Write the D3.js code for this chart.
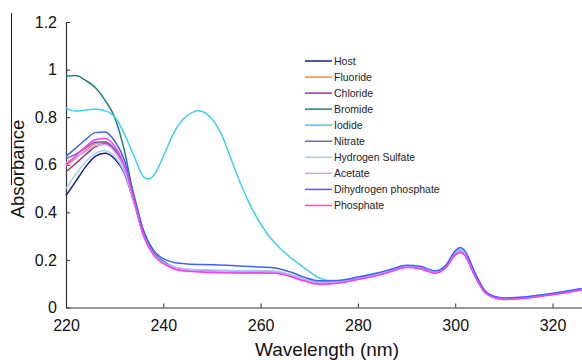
<!DOCTYPE html>
<html>
<head>
<meta charset="utf-8">
<script src="https://cdn.jsdelivr.net/npm/d3@7"></script>
<style>
  body { margin: 0; background: #fff; }
  svg { display: block; font-family: 'Liberation Sans', Arial, sans-serif; }
</style>
</head>
<body>
<div class="chart"></div>
<script>
// wavelength grids (nm)
var wavelength = [220,222,224,226,228,230,232,234,236,238,240,242,245,250,255,260,263,266,269,272,276,280,284,287,290,293,296,298,300,301,302,304,306,308,310,314,318,322,326];
var wavelengthIodide = [220,222,224,226,228,230,232,234,236,237,238,240,242,244,246,247,248,250,252,254,256,258,260,262,264,266,268,270,272,274,276,280,284,287,290,293,296,298,300,301,302,304,306,308,310,314,318,322,326];

// absorbance values
var host       = [0.470,0.530,0.590,0.635,0.648,0.625,0.565,0.440,0.300,0.225,0.190,0.170,0.158,0.152,0.150,0.150,0.148,0.135,0.115,0.102,0.106,0.122,0.138,0.155,0.170,0.164,0.146,0.168,0.222,0.232,0.220,0.135,0.068,0.043,0.036,0.040,0.050,0.062,0.076];
var fluoride   = [0.595,0.628,0.660,0.688,0.693,0.665,0.590,0.450,0.305,0.225,0.188,0.167,0.156,0.151,0.149,0.149,0.147,0.134,0.114,0.101,0.105,0.121,0.137,0.155,0.170,0.164,0.146,0.168,0.224,0.234,0.222,0.136,0.068,0.043,0.036,0.040,0.050,0.062,0.076];
var chloride   = [0.570,0.605,0.642,0.675,0.688,0.662,0.590,0.450,0.302,0.222,0.186,0.166,0.154,0.149,0.147,0.147,0.146,0.133,0.113,0.100,0.104,0.120,0.136,0.154,0.170,0.164,0.146,0.168,0.224,0.234,0.222,0.136,0.068,0.043,0.036,0.040,0.050,0.062,0.076];
var bromide    = [0.972,0.975,0.955,0.925,0.872,0.800,0.660,0.460,0.315,0.232,0.195,0.172,0.160,0.154,0.152,0.152,0.150,0.137,0.117,0.104,0.108,0.124,0.140,0.157,0.172,0.166,0.148,0.170,0.228,0.240,0.227,0.138,0.069,0.044,0.037,0.041,0.051,0.063,0.077];
var iodide     = [0.837,0.826,0.830,0.834,0.827,0.802,0.730,0.635,0.548,0.540,0.555,0.635,0.728,0.790,0.820,0.827,0.824,0.792,0.725,0.620,0.515,0.425,0.351,0.293,0.249,0.213,0.181,0.151,0.125,0.113,0.112,0.128,0.144,0.160,0.175,0.168,0.150,0.172,0.232,0.245,0.232,0.142,0.070,0.045,0.038,0.042,0.052,0.064,0.078];
var nitrate    = [0.625,0.645,0.670,0.695,0.697,0.665,0.592,0.452,0.305,0.226,0.190,0.170,0.158,0.153,0.151,0.151,0.149,0.136,0.116,0.103,0.107,0.123,0.139,0.156,0.172,0.166,0.148,0.170,0.228,0.240,0.227,0.138,0.069,0.044,0.037,0.041,0.051,0.063,0.077];
var hydrogenSulfate = [0.500,0.560,0.612,0.648,0.660,0.635,0.570,0.442,0.300,0.224,0.190,0.172,0.162,0.158,0.156,0.155,0.152,0.139,0.119,0.106,0.110,0.126,0.142,0.159,0.174,0.168,0.150,0.172,0.232,0.244,0.231,0.141,0.071,0.045,0.038,0.042,0.052,0.064,0.078];
var acetate    = [0.610,0.632,0.655,0.680,0.685,0.655,0.582,0.448,0.302,0.224,0.189,0.169,0.157,0.152,0.150,0.150,0.148,0.135,0.115,0.102,0.106,0.122,0.138,0.156,0.171,0.165,0.147,0.169,0.226,0.236,0.224,0.137,0.068,0.043,0.036,0.040,0.050,0.062,0.076];
var dihydrogenPhosphate = [0.635,0.670,0.705,0.735,0.738,0.700,0.620,0.470,0.320,0.240,0.205,0.190,0.183,0.180,0.176,0.170,0.166,0.150,0.127,0.112,0.114,0.128,0.145,0.162,0.178,0.172,0.154,0.176,0.238,0.252,0.238,0.150,0.074,0.047,0.040,0.044,0.054,0.066,0.080];
var phosphate  = [0.600,0.638,0.675,0.705,0.710,0.678,0.598,0.450,0.300,0.220,0.185,0.164,0.152,0.147,0.145,0.145,0.144,0.131,0.111,0.098,0.102,0.118,0.134,0.152,0.168,0.162,0.144,0.166,0.222,0.232,0.220,0.134,0.066,0.041,0.034,0.038,0.048,0.060,0.074];

var names  = ['Host', 'Fluoride', 'Chloride', 'Bromide', 'Iodide', 'Nitrate', 'Hydrogen Sulfate', 'Acetate', 'Dihydrogen phosphate', 'Phosphate'];
var colors = ['#1c1c80', '#ff8a3d', '#993399', '#1f8080', '#3fd0f0', '#6a6aae', '#a8ccf8', '#cfa0f8', '#3a62ff', '#ff3cf5'];
var xTicks = [220, 240, 260, 280, 300, 320];
var yTicks = [0, 0.2, 0.4, 0.6, 0.8, 1, 1.2];

var seriesList = [
  {name: names[0], x: wavelength, y: host},
  {name: names[1], x: wavelength, y: fluoride},
  {name: names[2], x: wavelength, y: chloride},
  {name: names[3], x: wavelength, y: bromide},
  {name: names[4], x: wavelengthIodide, y: iodide},
  {name: names[5], x: wavelength, y: nitrate},
  {name: names[6], x: wavelength, y: hydrogenSulfate},
  {name: names[7], x: wavelength, y: acetate},
  {name: names[8], x: wavelength, y: dihydrogenPhosphate},
  {name: names[9], x: wavelength, y: phosphate}
];

const width = 582, height = 360;
var margin = {top: 22, left: 66, bottom: 52.5};

var svg = d3.select('.chart')
            .append('svg')
            .attr('width', width)
            .attr('height', height);

var x = d3.scaleLinear().domain([220, 326]).range([margin.left, 581.7]);
var y = d3.scaleLinear().domain([0, 1.2]).range([height - margin.bottom, margin.top]);

var palette = d3.scaleOrdinal().domain(names).range(colors);

// axes, ticks pointing inward
var xAxis = svg.append('g')
    .attr('transform', `translate(0, ${y(0)})`)
    .call(d3.axisBottom(x).tickValues(xTicks).tickSize(-4).tickSizeOuter(0).tickPadding(9));

var yAxis = svg.append('g')
    .attr('transform', `translate(${x(220)}, 0)`)
    .call(d3.axisLeft(y).tickValues(yTicks).tickSize(-4).tickSizeOuter(0).tickPadding(9).tickFormat(d3.format('~g')));

[xAxis, yAxis].forEach(a => {
  a.select('.domain').attr('stroke', '#333').attr('stroke-width', 1.2);
  a.selectAll('.tick line').attr('stroke', '#333');
  a.selectAll('.tick text').style('font-size', '16px').attr('fill', '#111')
    .style('font-family', "'Liberation Sans', Arial, sans-serif");
});
xAxis.selectAll('.tick text').attr('dy', '0.9em');

// curves
var line = d3.line()
    .x(d => x(d[0]))
    .y(d => y(d[1]))
    .curve(d3.curveMonotoneX);

svg.append('g')
  .selectAll('path')
  .data(seriesList)
  .enter()
  .append('path')
  .attr('d', s => line(s.x.map((w, i) => [w, s.y[i]])))
  .attr('fill', 'none')
  .attr('stroke', s => palette(s.name))
  .attr('stroke-width', 1.5)
  .attr('stroke-linejoin', 'round');

// axis titles
svg.append('text')
  .attr('x', 327)
  .attr('y', 356)
  .attr('text-anchor', 'middle')
  .style('font-size', '19px')
  .attr('fill', '#111')
  .text('Wavelength (nm)');

svg.append('text')
  .attr('transform', 'translate(24, 169) rotate(-90)')
  .attr('text-anchor', 'middle')
  .style('font-size', '18.5px')
  .attr('fill', '#111')
  .text('Absorbance');

// stray frame line at far left of the original figure
svg.append('line')
  .attr('x1', 11.5).attr('x2', 11.5)
  .attr('y1', 13).attr('y2', 185)
  .attr('stroke', '#222')
  .attr('stroke-width', 1);

// legend
var legend = svg.append('g')
    .selectAll('.legendRow')
    .data(names)
    .enter()
    .append('g')
    .attr('class', 'legendRow')
    .attr('transform', (d, i) => `translate(305, ${61 + i * 16.05})`);

legend.append('line')
  .attr('x1', 0).attr('x2', 27)
  .attr('stroke', d => palette(d))
  .attr('stroke-width', 1.5);

legend.append('text')
  .attr('x', 29)
  .attr('dy', '0.35em')
  .style('font-size', '10.5px')
  .attr('fill', '#222')
  .text(d => d);
</script>
</body>
</html>
